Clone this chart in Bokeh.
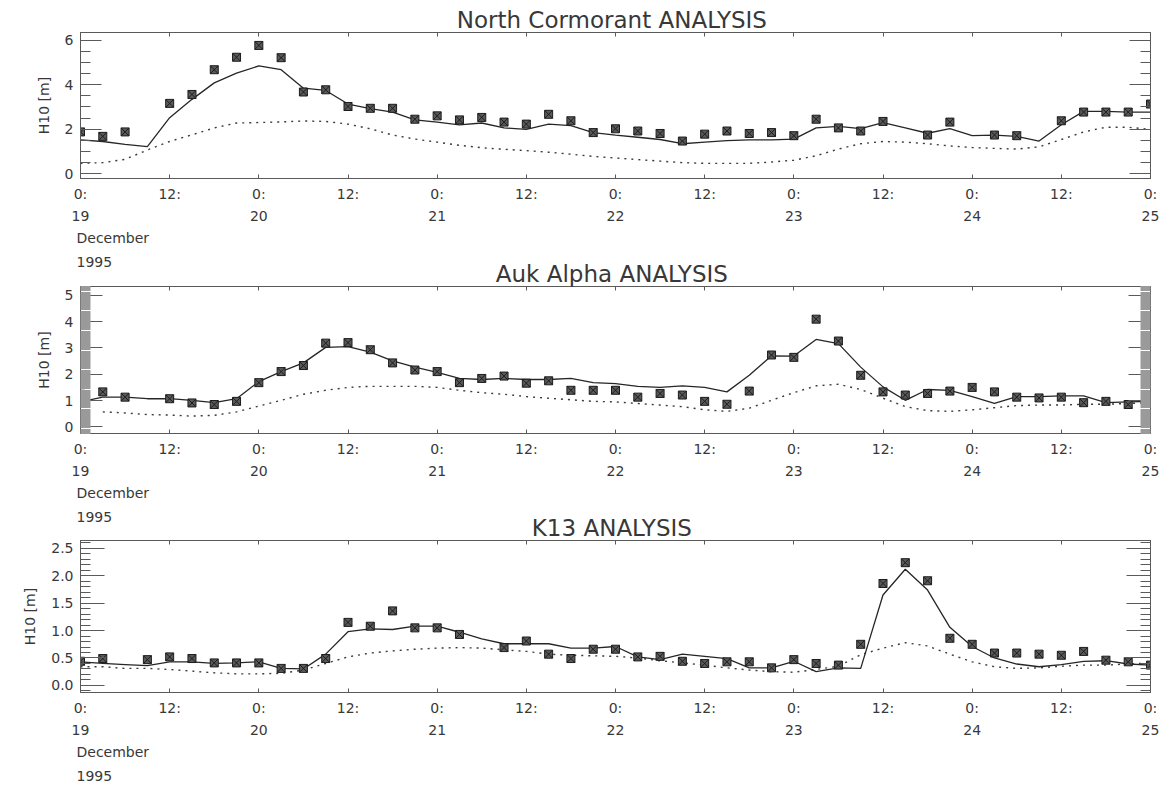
from bokeh.plotting import figure
from bokeh.models import Range1d, LinearAxis, FixedTicker, Title
from bokeh.layouts import column
from bokeh.embed import file_html
from bokeh.resources import INLINE

# ---------------- data (hours since 19 December 1995 00:00) ----------------
HOURS = list(range(0, 145, 3))
HALF_DAY_TICKS = list(range(0, 145, 12))
HALF_DAY_LABELS = ["0:", "12:", "0:", "12:", "0:", "12:", "0:", "12:", "0:", "12:", "0:", "12:", "0:"]
DAY_TICKS = list(range(0, 145, 24))
DAY_LABELS = ["19", "20", "21", "22", "23", "24", "25"]
MONTH_LABEL = "December"
YEAR_LABEL = "1995"
Y_LABEL = "H10 [m]"

# North Cormorant
nc_title = "North Cormorant  ANALYSIS"
nc_obs_h = [0, 3, 6, 12, 15, 18, 21, 24, 27, 30, 33, 36, 39, 42, 45, 48, 51, 54, 57, 60, 63, 66, 69,
            72, 75, 78, 81, 84, 87, 90, 93, 96, 99, 102, 105, 108, 114, 117, 123, 126, 132, 135, 138, 141, 144]
nc_obs = [1.88, 1.68, 1.88, 3.16, 3.56, 4.67, 5.23, 5.76, 5.21, 3.67, 3.77, 3.02, 2.94, 2.94, 2.45, 2.60,
          2.42, 2.53, 2.32, 2.23, 2.67, 2.38, 1.85, 2.02, 1.92, 1.81, 1.47, 1.78, 1.92, 1.81, 1.85, 1.71,
          2.45, 2.06, 1.92, 2.35, 1.74, 2.32, 1.74, 1.71, 2.38, 2.77, 2.77, 2.77, 3.13]
nc_analysis = [1.52, 1.45, 1.32, 1.22, 2.52, 3.34, 4.08, 4.52, 4.84, 4.67, 3.84, 3.74, 3.13, 2.92, 2.77,
               2.42, 2.32, 2.20, 2.28, 2.06, 1.99, 2.23, 2.16, 1.85, 1.74, 1.64, 1.54, 1.35, 1.42, 1.49,
               1.52, 1.52, 1.56, 2.06, 2.13, 2.03, 2.30, 2.06, 1.82, 2.03, 1.71, 1.74, 1.68, 1.47, 2.20,
               2.80, 2.80, 2.77, 2.77]
nc_guess_h = HOURS
nc_guess = [0.47, 0.50, 0.65, 1.07, 1.45, 1.75, 2.06, 2.28, 2.30, 2.33, 2.37, 2.35, 2.23, 2.02, 1.74,
            1.56, 1.42, 1.28, 1.17, 1.10, 1.04, 0.97, 0.88, 0.78, 0.71, 0.64, 0.57, 0.50, 0.47, 0.47,
            0.47, 0.53, 0.61, 0.81, 1.11, 1.35, 1.45, 1.42, 1.35, 1.25, 1.18, 1.14, 1.11, 1.21, 1.54,
            1.88, 2.09, 2.09, 1.99]
nc_yticks = [0, 2, 4, 6]
nc_ylabels = ["0", "2", "4", "6"]

# Auk Alpha
auk_title = "Auk Alpha  ANALYSIS"
auk_obs_h = [0, 3, 6, 12, 15, 18, 21, 24, 27, 30, 33, 36, 39, 42, 45, 48, 51, 54, 57, 60, 63, 66, 69,
             72, 75, 78, 81, 84, 87, 90, 93, 96, 99, 102, 105, 108, 111, 114, 117, 120, 123, 126, 129,
             132, 135, 138, 141, 144]
auk_obs = [1.24, 1.33, 1.13, 1.07, 0.91, 0.85, 0.97, 1.68, 2.10, 2.33, 3.18, 3.20, 2.93, 2.43, 2.16,
           2.10, 1.68, 1.84, 1.93, 1.66, 1.75, 1.39, 1.39, 1.39, 1.13, 1.27, 1.21, 0.97, 0.86, 1.36,
           2.73, 2.64, 4.09, 3.26, 1.96, 1.33, 1.21, 1.27, 1.36, 1.50, 1.33, 1.13, 1.10, 1.13, 0.92,
           0.97, 0.85, 0.92]
auk_analysis = [0.95, 1.13, 1.13, 1.07, 1.07, 1.01, 0.92, 1.07, 1.72, 2.10, 2.43, 3.02, 3.05, 2.84, 2.51,
                2.27, 2.07, 1.84, 1.80, 1.84, 1.80, 1.80, 1.84, 1.68, 1.64, 1.54, 1.50, 1.56, 1.50, 1.33,
                1.96, 2.70, 2.69, 3.32, 3.16, 2.27, 1.52, 1.01, 1.42, 1.39, 1.15, 0.89, 1.15, 1.15, 1.18,
                1.18, 0.92, 0.95, 0.97]
auk_guess_h = HOURS[1:]
auk_guess = [0.57, 0.53, 0.47, 0.45, 0.41, 0.44, 0.57, 0.79, 1.01, 1.24, 1.39, 1.50, 1.54, 1.54, 1.54,
             1.50, 1.39, 1.30, 1.24, 1.15, 1.09, 1.03, 0.97, 0.95, 0.89, 0.83, 0.77, 0.65, 0.59, 0.71,
             1.01, 1.30, 1.56, 1.62, 1.42, 1.09, 0.77, 0.62, 0.59, 0.65, 0.73, 0.81, 0.83, 0.83, 0.86,
             0.86, 0.89, 0.92]
auk_yticks = [0, 1, 2, 3, 4, 5]
auk_ylabels = ["0", "1", "2", "3", "4", "5"]

# K13
k13_title = "K13  ANALYSIS"
k13_obs_h = [0, 3, 9, 12, 15, 18, 21, 24, 27, 30, 33, 36, 39, 42, 45, 48, 51, 57, 60, 63, 66, 69,
             72, 75, 78, 81, 84, 87, 90, 93, 96, 99, 102, 105, 108, 111, 114, 117, 120, 123, 126, 129,
             132, 135, 138, 141, 144]
k13_obs = [0.44, 0.49, 0.47, 0.52, 0.49, 0.41, 0.41, 0.41, 0.31, 0.31, 0.49, 1.15, 1.08, 1.36, 1.05,
           1.05, 0.93, 0.69, 0.81, 0.57, 0.49, 0.66, 0.66, 0.52, 0.53, 0.44, 0.40, 0.43, 0.43, 0.32,
           0.47, 0.40, 0.37, 0.75, 1.86, 2.24, 1.91, 0.86, 0.75, 0.59, 0.59, 0.57, 0.55, 0.62, 0.46,
           0.43, 0.37]
k13_analysis = [0.43, 0.40, 0.38, 0.36, 0.43, 0.43, 0.40, 0.41, 0.43, 0.31, 0.30, 0.57, 0.98, 1.03, 1.02,
                1.08, 1.08, 0.97, 0.85, 0.76, 0.76, 0.76, 0.68, 0.68, 0.71, 0.52, 0.47, 0.57, 0.53, 0.49,
                0.32, 0.32, 0.44, 0.25, 0.32, 0.31, 1.65, 2.12, 1.74, 1.06, 0.71, 0.50, 0.39, 0.34, 0.38,
                0.44, 0.45, 0.39, 0.37]
k13_guess_h = HOURS
k13_guess = [0.34, 0.34, 0.31, 0.31, 0.29, 0.26, 0.23, 0.21, 0.21, 0.22, 0.28, 0.40, 0.52, 0.59, 0.63,
             0.66, 0.68, 0.69, 0.68, 0.65, 0.62, 0.57, 0.55, 0.54, 0.53, 0.50, 0.45, 0.41, 0.37, 0.32,
             0.28, 0.25, 0.24, 0.29, 0.35, 0.56, 0.68, 0.78, 0.72, 0.57, 0.43, 0.34, 0.31, 0.32, 0.35,
             0.37, 0.37, 0.39, 0.41]
k13_yticks = [0.0, 0.5, 1.0, 1.5, 2.0, 2.5]
k13_ylabels = ["0.0", "0.5", "1.0", "1.5", "2.0", "2.5"]

# ---------------- styling ----------------
FONT = "DejaVu Sans"
INK = "#383838"
FRAME = "#5a5a5a"
W = 1170


def make_panel(title, obs_h, obs, analysis, guess_h, guess, yr, yticks, ylabels, minor_step,
               minor_color, height, bl, br, bt, bb, major_in, top_margin):
    p = figure(width=W, height=height, output_backend="svg", toolbar_location=None,
               x_range=Range1d(0, 144), y_range=Range1d(*yr),
               min_border_left=bl, min_border_right=br, min_border_top=bt, min_border_bottom=bb,
               x_axis_type=None, y_axis_type=None, title=title)
    p.margin = (top_margin, 0, 0, 0)
    p.grid.visible = False
    p.outline_line_color = FRAME
    p.outline_line_width = 1
    p.background_fill_color = "white"
    p.border_fill_alpha = 0.0

    p.title.align = "center"
    p.title.text_font = FONT
    p.title.text_font_size = "23px"
    p.title.text_font_style = "normal"
    p.title.text_color = INK
    p.title.standoff = 0

    ymin_start = minor_step * round(yr[0] / minor_step)
    yminor = [round(ymin_start + i * minor_step, 4)
              for i in range(int((yr[1] - ymin_start) / minor_step) + 1)]

    def style_axis(ax, major_in_len, minor_in_len):
        ax.axis_line_color = FRAME
        ax.major_tick_line_color = FRAME
        ax.minor_tick_line_color = minor_color
        ax.major_tick_in = major_in_len
        ax.major_tick_out = 0
        ax.minor_tick_in = minor_in_len
        ax.minor_tick_out = 0
        ax.major_label_text_font = FONT
        ax.major_label_text_font_size = "14px"
        ax.major_label_text_color = INK

    # bottom time axis
    xb = LinearAxis(ticker=FixedTicker(ticks=HALF_DAY_TICKS, minor_ticks=[]),
                    major_label_overrides=dict(zip(HALF_DAY_TICKS, HALF_DAY_LABELS)))
    style_axis(xb, 4, 0)
    xb.major_label_standoff = 7
    p.add_layout(xb, "below")
    # day numbers
    xd = LinearAxis(ticker=FixedTicker(ticks=DAY_TICKS, minor_ticks=[]),
                    major_label_overrides=dict(zip(DAY_TICKS, DAY_LABELS)))
    style_axis(xd, 0, 0)
    xd.axis_line_color = None
    xd.major_tick_line_color = None
    xd.minor_tick_line_color = None
    xd.major_label_standoff = 6
    p.add_layout(xd, "below")
    # month / year
    for txt in (MONTH_LABEL, YEAR_LABEL):
        t = Title(text=txt, align="left", offset=-4, standoff=9, text_font=FONT,
                  text_font_size="14px", text_font_style="normal", text_color=INK)
        p.add_layout(t, "below")
    # top mirror
    xt = LinearAxis(ticker=FixedTicker(ticks=HALF_DAY_TICKS, minor_ticks=[]))
    style_axis(xt, 4, 0)
    xt.major_label_text_font_size = "0px"
    xt.major_label_text_color = None
    xt.major_label_standoff = 0
    p.add_layout(xt, "above")

    # left y axis
    yl = LinearAxis(ticker=FixedTicker(ticks=yticks, minor_ticks=yminor),
                    major_label_overrides=dict(zip(yticks, ylabels)),
                    axis_label=Y_LABEL)
    style_axis(yl, major_in, 10)
    yl.major_label_standoff = 7
    yl.major_label_orientation = "horizontal"
    yl.axis_label_text_font = FONT
    yl.axis_label_text_font_size = "14px"
    yl.axis_label_text_font_style = "normal"
    yl.axis_label_text_color = INK
    yl.axis_label_standoff = 10
    p.add_layout(yl, "left")
    # right mirror
    yr_ax = LinearAxis(ticker=FixedTicker(ticks=yticks, minor_ticks=yminor))
    style_axis(yr_ax, major_in, 10)
    yr_ax.major_label_text_font_size = "0px"
    yr_ax.major_label_text_color = None
    yr_ax.major_label_standoff = 0
    p.add_layout(yr_ax, "right")

    # data
    p.line(guess_h, guess, line_color="#3a3a3a", line_width=1.4, line_dash="2 5")
    p.line(HOURS, analysis, line_color="#262626", line_width=1.3)
    p.scatter(obs_h, obs, marker="square_x", size=8, fill_color="#5a5a5a",
              line_color="#1c1c1c", line_width=1)
    return p


p1 = make_panel(nc_title, nc_obs_h, nc_obs, nc_analysis, nc_guess_h, nc_guess, (-0.21, 6.34),
                nc_yticks, nc_ylabels, 0.5, FRAME, 271, 80, 15, 32, 90, 21, 0)
p2 = make_panel(auk_title, auk_obs_h, auk_obs, auk_analysis, auk_guess_h, auk_guess, (-0.25, 5.33),
                auk_yticks, auk_ylabels, 0.04, "#9a9a9a", 274, 78, 17, 34, 90, 22, -19)
p3 = make_panel(k13_title, k13_obs_h, k13_obs, k13_analysis, k13_guess_h, k13_guess, (-0.13, 2.645),
                k13_yticks, k13_ylabels, 0.1, FRAME, 279, 73, 20, 34, 93, 24, -20)

layout = column(p1, p2, p3, spacing=0)
open("out.html", "w").write(file_html(layout, INLINE))
